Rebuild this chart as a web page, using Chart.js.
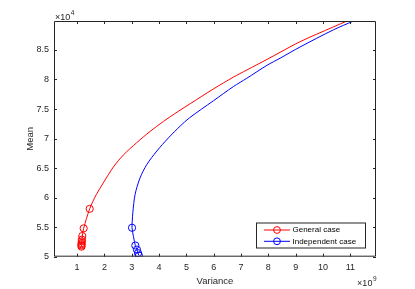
<!DOCTYPE html>
<html>
<head>
<meta charset="utf-8">
<script src="https://cdn.jsdelivr.net/npm/chart.js@4/dist/chart.umd.min.js"></script>
<style>
  body { margin: 0; background: #fff; }
  #wrap { width: 415px; height: 289px; }
</style>
</head>
<body>
<div id="wrap"><canvas id="c" width="415" height="289"></canvas></div>
<script>
// values in units of x10^9 (variance) and x10^4 (mean)
const generalVar  = [1.16, 1.16, 1.16, 1.165, 1.17, 1.175, 1.19, 1.24, 1.46, 1.70, 1.96, 2.33, 2.69, 3.18, 3.67, 4.16, 4.70, 5.14, 5.99, 6.72, 7.21, 7.95, 8.43, 9.16, 10.38, 10.88];
const generalMean = [5.17, 5.19, 5.21, 5.23, 5.26, 5.29, 5.35, 5.48, 5.81, 6.05, 6.25, 6.52, 6.72, 6.93, 7.12, 7.29, 7.46, 7.59, 7.84, 8.04, 8.16, 8.34, 8.46, 8.64, 8.89, 8.99];
const generalMarkers = 9; // first points drawn with a circle

const indepVar  = [3.26, 3.23, 3.19, 3.13, 3.01, 3.02, 3.04, 3.12, 3.30, 3.55, 3.92, 4.34, 4.77, 5.11, 5.99, 6.72, 7.21, 7.95, 8.43, 9.16, 10.38, 11.12];
const indepMean = [5.02, 5.06, 5.12, 5.19, 5.49, 5.62, 5.75, 6.05, 6.33, 6.56, 6.79, 7.01, 7.21, 7.35, 7.64, 7.88, 8.02, 8.24, 8.36, 8.55, 8.84, 8.99];
const indepMarkers = 5;

const xTicks = [1, 2, 3, 4, 5, 6, 7, 8, 9, 10, 11];
const yTicks = [5, 5.5, 6, 6.5, 7, 7.5, 8, 8.5];
const seriesNames = ['General case', 'Independent case'];
const seriesColors = ['#ff0000', '#0000ff'];

const axisColor = '#262626';
const fontFam = '"Liberation Sans", Arial, Helvetica, sans-serif';

function toPoints(xs, ys) {
  return xs.map((x, i) => ({x: x, y: ys[i]}));
}
function radii(n, m) {
  return Array.from({length: n}, (_, i) => i < m ? 3.6 : 0);
}

const boxPlugin = {
  id: 'matlabBox',
  afterDraw(chart) {
    const ctx = chart.ctx;
    const a = chart.chartArea;
    const xs = chart.scales.x, ys = chart.scales.y;
    ctx.save();
    ctx.strokeStyle = axisColor;
    ctx.lineWidth = 1;
    ctx.beginPath();
    ctx.rect(a.left + 0.5, a.top + 0.5, a.right - a.left - 1, a.bottom - a.top - 1);
    ctx.stroke();
    // inward ticks
    const tl = 3;
    ctx.beginPath();
    xTicks.forEach(v => {
      const px = Math.round(xs.getPixelForValue(v)) + 0.5;
      ctx.moveTo(px, a.bottom); ctx.lineTo(px, a.bottom - tl);
      ctx.moveTo(px, a.top); ctx.lineTo(px, a.top + tl);
    });
    yTicks.forEach(v => {
      const py = Math.round(ys.getPixelForValue(v)) + 0.5;
      ctx.moveTo(a.left, py); ctx.lineTo(a.left + tl, py);
      ctx.moveTo(a.right, py); ctx.lineTo(a.right - tl, py);
    });
    ctx.stroke();

    // axis titles
    ctx.fillStyle = axisColor;
    ctx.font = '9.5px ' + fontFam;
    ctx.textAlign = 'center';
    ctx.textBaseline = 'middle';
    ctx.fillText('Variance', (a.left + a.right) / 2, 281);
    ctx.save();
    ctx.translate(30, (a.top + a.bottom) / 2);
    ctx.rotate(-Math.PI / 2);
    ctx.fillText('Mean', 0, 0);
    ctx.restore();

    // exponent labels
    function expo(x, y, p, alignRight) {
      ctx.textBaseline = 'alphabetic';
      ctx.textAlign = 'left';
      ctx.font = '9px ' + fontFam;
      const base = '\u00d710';
      const bw = ctx.measureText(base).width;
      ctx.font = '6.5px ' + fontFam;
      const pw = ctx.measureText(p).width;
      const x0 = alignRight ? x - bw - pw : x;
      ctx.font = '9px ' + fontFam;
      ctx.fillText(base, x0, y);
      ctx.font = '6.5px ' + fontFam;
      ctx.fillText(p, x0 + bw + 0.5, y - 5);
    }
    expo(a.left + 1, 19.5, '4', false);
    expo(a.right, 286, '9', true);

    // legend
    const lx = 256, ly = 222.5, lw = 109, lh = 25;
    ctx.fillStyle = '#ffffff';
    ctx.fillRect(lx, ly, lw, lh);
    ctx.strokeStyle = axisColor;
    ctx.strokeRect(lx + 0.5, ly + 0.5, lw, lh);
    const rows = [230, 241.3];
    rows.forEach((ry, i) => {
      ctx.strokeStyle = seriesColors[i];
      ctx.lineWidth = 1;
      ctx.beginPath();
      ctx.moveTo(264, ry); ctx.lineTo(290, ry);
      ctx.stroke();
      ctx.beginPath();
      ctx.arc(277, ry, 3.4, 0, Math.PI * 2);
      ctx.stroke();
      ctx.fillStyle = '#000';
      ctx.font = '8px ' + fontFam;
      ctx.textAlign = 'left';
      ctx.textBaseline = 'middle';
      ctx.fillText(seriesNames[i], 292.5, ry);
    });
    ctx.restore();
  }
};

const chart = new Chart(document.getElementById('c'), {
  type: 'scatter',
  data: {
    datasets: [
      {
        label: seriesNames[0],
        data: toPoints(generalVar, generalMean),
        showLine: true,
        borderColor: seriesColors[0],
        backgroundColor: 'rgba(0,0,0,0)',
        borderWidth: 1,
        pointRadius: radii(generalVar.length, generalMarkers),
        pointBorderWidth: 1,
        tension: 0.3
      },
      {
        label: seriesNames[1],
        data: toPoints(indepVar, indepMean),
        showLine: true,
        borderColor: seriesColors[1],
        backgroundColor: 'rgba(0,0,0,0)',
        borderWidth: 1,
        pointRadius: radii(indepVar.length, indepMarkers),
        pointBorderWidth: 1,
        tension: 0.3
      }
    ]
  },
  options: {
    responsive: false,
    animation: false,
    layout: { padding: { left: 0, top: 21, right: 39, bottom: 0 } },
    plugins: { legend: { display: false }, tooltip: { enabled: false } },
    scales: {
      x: {
        type: 'linear',
        min: 0.154, max: 11.94,
        afterFit: s => { s.height = 32.3; },
        afterBuildTicks: s => { s.ticks = xTicks.map(v => ({value: v})); },
        grid: { display: false, drawTicks: false },
        border: { display: false },
        ticks: { color: axisColor, font: { family: fontFam, size: 9 }, padding: 5, maxRotation: 0, autoSkip: false,
                 callback: v => String(v) }
      },
      y: {
        type: 'linear',
        min: 5, max: 8.99,
        afterFit: s => { s.width = 54; },
        afterBuildTicks: s => { s.ticks = yTicks.map(v => ({value: v})); },
        grid: { display: false, drawTicks: false },
        border: { display: false },
        ticks: { color: axisColor, font: { family: fontFam, size: 9 }, padding: 5, autoSkip: false,
                 callback: v => String(v) }
      }
    }
  },
  plugins: [boxPlugin]
});
</script>
</body>
</html>
